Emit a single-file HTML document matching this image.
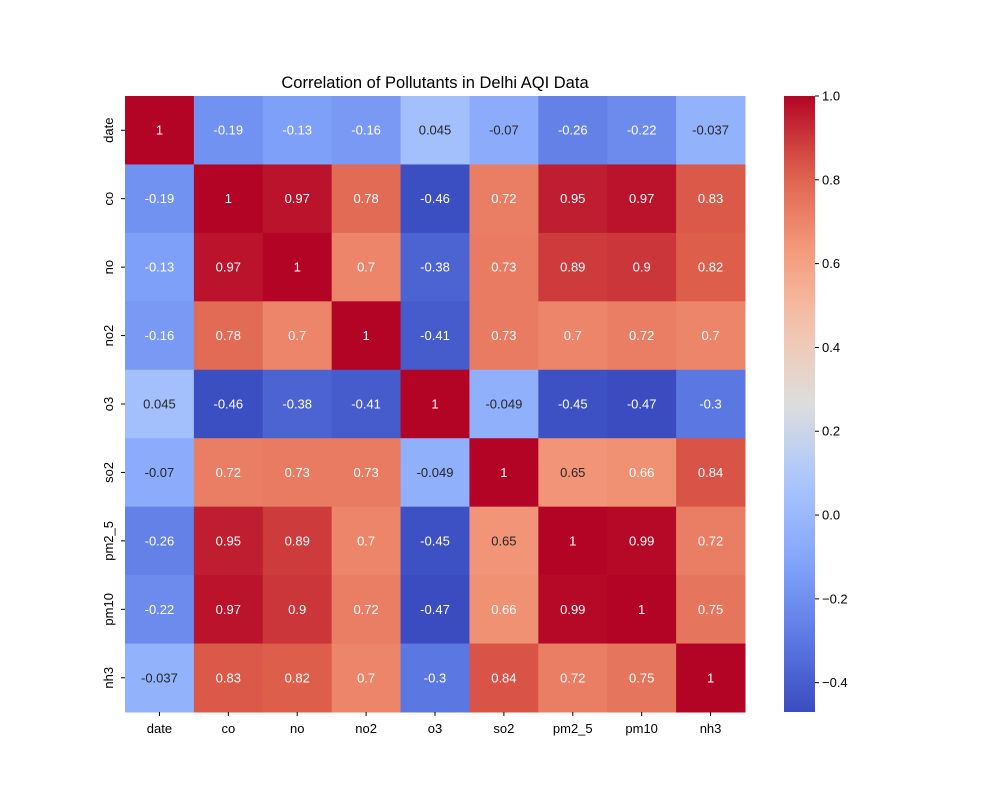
<!DOCTYPE html>
<html><head><meta charset="utf-8"><style>
body{margin:0;background:#fff;}
svg text{font-family:"Liberation Sans","DejaVu Sans",sans-serif;}
</style></head><body>
<svg id="chart" width="1000" height="800">
<defs><linearGradient id="cbg" x1="0" y1="1" x2="0" y2="0"></linearGradient></defs>
<text x="435" y="88" font-size="16.5" text-anchor="middle" fill="#000">Correlation of Pollutants in Delhi AQI Data</text>
<g id="cells"></g>
<g id="xlabels"></g>
<g id="ylabels"></g>
<g id="cbar"></g>
</svg>
<script>
const labels=["date","co","no","no2","o3","so2","pm2_5","pm10","nh3"];
const row0=[1,-0.19,-0.13,-0.16,0.045,-0.07,-0.26,-0.22,-0.037];
const row1=[-0.19,1,0.97,0.78,-0.46,0.72,0.95,0.97,0.83];
const row2=[-0.13,0.97,1,0.7,-0.38,0.73,0.89,0.9,0.82];
const row3=[-0.16,0.78,0.7,1,-0.41,0.73,0.7,0.72,0.7];
const row4=[0.045,-0.46,-0.38,-0.41,1,-0.049,-0.45,-0.47,-0.3];
const row5=[-0.07,0.72,0.73,0.73,-0.049,1,0.65,0.66,0.84];
const row6=[-0.26,0.95,0.89,0.7,-0.45,0.65,1,0.99,0.72];
const row7=[-0.22,0.97,0.9,0.72,-0.47,0.66,0.99,1,0.75];
const row8=[-0.037,0.83,0.82,0.7,-0.3,0.84,0.72,0.75,1];
const matrix=[row0,row1,row2,row3,row4,row5,row6,row7,row8];
const cbTicks=[-0.4,-0.2,0.0,0.2,0.4,0.6,0.8,1.0];
const vmin=-0.47,vmax=1.0;
const X0=125,Y0=96,W=620,H=616,n=labels.length,cw=W/n,ch=H/n;
const stops=[[58,76,192],[94,123,229],[133,166,251],[170,199,253],[221,221,221],[244,196,173],[244,154,123],[222,96,76],[180,4,38]];
function cmap(v){let t=(v-vmin)/(vmax-vmin);t=Math.max(0,Math.min(1,t));let p=t*8,i=Math.min(7,Math.floor(p)),f=p-i;
const a=stops[i],b=stops[i+1];return a.map((c,k)=>Math.round(c+(b[k]-c)*f));}
function rgb(c){return `rgb(${c[0]},${c[1]},${c[2]})`;}
const NS="http://www.w3.org/2000/svg";
function mk(tag,attrs,parent){const e=document.createElementNS(NS,tag);for(const k in attrs)e.setAttribute(k,attrs[k]);parent.appendChild(e);return e;}
function fmt(v){return String(Math.round(v*1000)/1000);}
const cells=document.getElementById('cells');
matrix.forEach((row,r)=>row.forEach((v,c)=>{
 const col=cmap(v);
 const rect=mk('rect',{x:X0+c*cw,y:Y0+r*ch,width:cw+0.5,height:ch+0.5,fill:rgb(col)},cells);
 
 
 const dark=(v>-0.1&&v<0.655);
 const t=mk('text',{x:X0+(c+0.5)*cw,y:Y0+(r+0.5)*ch+4.5,'font-size':13,'text-anchor':'middle',fill:dark?'#262626':'#fff'},cells);
 t.textContent=fmt(v);
 
 
}));
const xl=document.getElementById('xlabels'),yl=document.getElementById('ylabels');
labels.forEach((l,i)=>{
 const t=mk('text',{x:X0+(i+0.5)*cw,y:733,'font-size':13,'text-anchor':'middle',fill:'#000'},xl);t.textContent=l;
 
 
 const yy=Y0+(i+0.5)*ch;
 const t2=mk('text',{x:0,y:0,'font-size':13,'text-anchor':'middle',fill:'#000',transform:`translate(113,${yy}) rotate(-90)`},yl);t2.textContent=l;
 
 
 mk('line',{x1:X0+(i+0.5)*cw,x2:X0+(i+0.5)*cw,y1:712,y2:716,stroke:'#000'},xl);
 mk('line',{x1:121,x2:125,y1:yy,y2:yy,stroke:'#000'},yl);
});
const cb=document.getElementById('cbar');const CX=784,CW=31;
const g=document.getElementById('cbg');
for(let i=0;i<=20;i++){const v=vmin+(vmax-vmin)*i/20;mk('stop',{offset:(i/20),'stop-color':rgb(cmap(v))},g);}
const cr=mk('rect',{x:CX,y:Y0,width:CW,height:H,fill:'url(#cbg)'},cb);


function cy(v){return Y0+H*(vmax-v)/(vmax-vmin);}
cbTicks.forEach(v=>{const y=cy(v);
 mk('line',{x1:CX+CW,x2:CX+CW+4,y1:y,y2:y,stroke:'#000'},cb);
 const t=mk('text',{x:CX+CW+7,y:y+4.5,'font-size':13,fill:'#000'},cb);t.textContent=(v<0?'\u2212':'')+Math.abs(v).toFixed(1);
 
 
});
</script>
</body></html>
